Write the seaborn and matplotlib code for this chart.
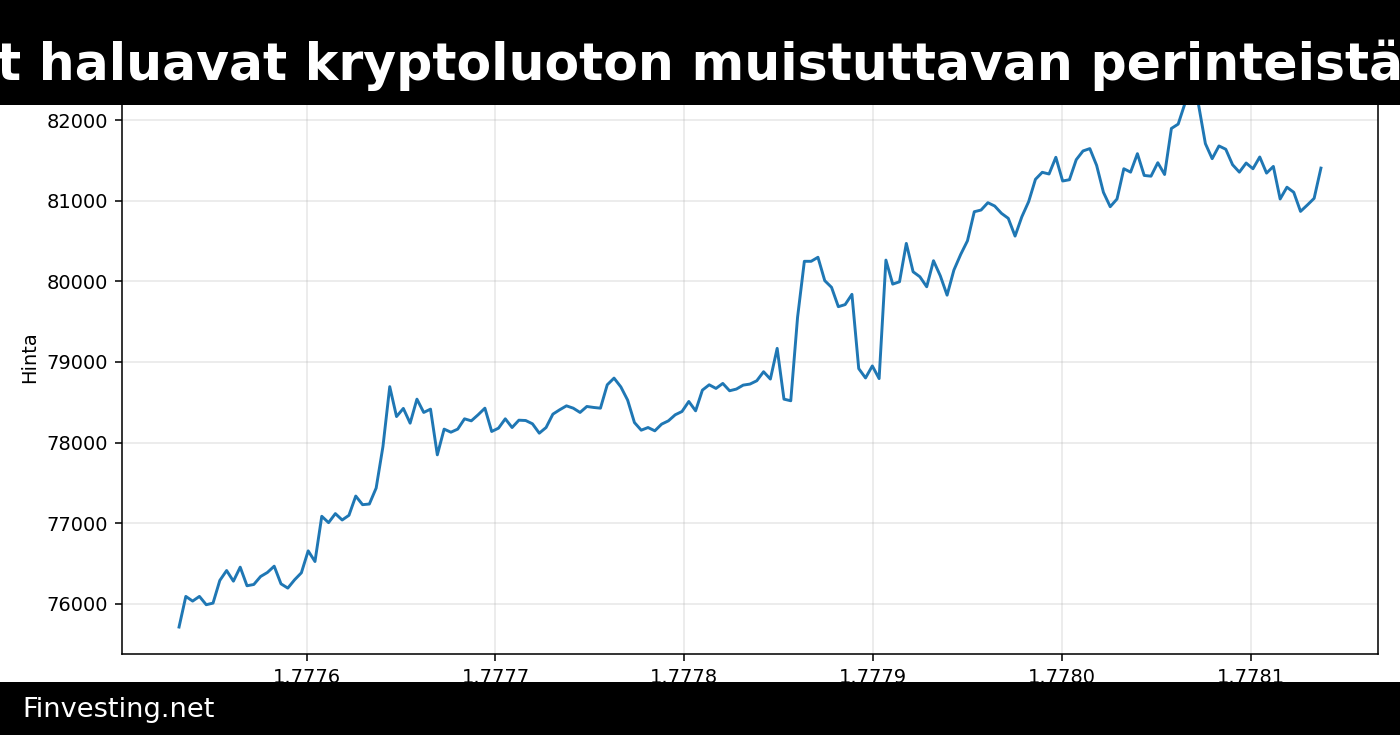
import numpy as np
import pandas as pd
import matplotlib
matplotlib.use("Agg")
import matplotlib.pyplot as plt
from matplotlib.patches import Rectangle
import seaborn as sns

TITLE = "t haluavat kryptoluoton muistuttavan perinteistä"
FOOTER = "Finvesting.net"
Y_LABEL = "Hinta"

START_TS = 1777532400
STEP_S = 3600

PRICES = [
    75711, 76091, 76033, 76091, 75988, 76008, 76289, 76412, 76280, 76454,
    76223, 76239, 76338, 76388, 76466, 76247, 76194, 76297, 76384, 76656,
    76524, 77085, 77006, 77118, 77039, 77097, 77336, 77229, 77237, 77435,
    77950, 78693, 78322, 78423, 78240, 78538, 78373, 78414, 77847, 78166,
    78128, 78166, 78294, 78269, 78344, 78426, 78137, 78178, 78294, 78186,
    78277, 78273, 78232, 78116, 78186, 78352, 78406, 78455, 78426, 78373,
    78447, 78435, 78426, 78716, 78799, 78690, 78526, 78248, 78153, 78186,
    78145, 78228, 78269, 78344, 78385, 78509, 78393, 78650, 78716, 78671,
    78733, 78642, 78663, 78712, 78725, 78766, 78878, 78787, 79168, 78538,
    78518, 79553, 80248, 80248, 80298, 80008, 79925, 79685, 79711, 79838,
    78917, 78801, 78950, 78793, 80263, 79965, 79994, 80470, 80118, 80056,
    79932, 80255, 80068, 79828, 80139, 80333, 80503, 80863, 80884, 80975,
    80934, 80843, 80781, 80561, 80801, 80988, 81265, 81352, 81331, 81538,
    81244, 81260, 81508, 81617, 81646, 81438, 81104, 80925, 81021, 81396,
    81354, 81583, 81313, 81304, 81471, 81325, 81896, 81950, 82208, 82400,
    82188, 81708, 81521, 81679, 81638, 81446, 81354, 81467, 81396, 81542,
    81342, 81425, 81021, 81167, 81104, 80867, 80946, 81029, 81404,
]

times = START_TS + STEP_S * np.arange(len(PRICES))
df = pd.DataFrame({"aika": times, "hinta": PRICES})

fig = plt.figure(figsize=(10, 5.25), dpi=140)
ax = fig.add_axes([0.0871, 0.1102, 0.8972, 0.807])

sns.lineplot(data=df, x="aika", y="hinta", ax=ax, color="#1f77b4", linewidth=1.5)
ax.grid(True, alpha=0.3)
ax.set_xlabel("")
ax.set_ylabel(Y_LABEL)

# Top banner
fig.add_artist(Rectangle((0, 0.857), 1, 0.143, transform=fig.transFigure,
                         facecolor="black", edgecolor="none", zorder=10))
fig.text(0.5, 0.891, TITLE, ha="center", va="baseline", color="white",
         fontsize=26, fontweight="bold", zorder=11)

# Footer
fig.add_artist(Rectangle((0, 0), 1, 0.072, transform=fig.transFigure,
                         facecolor="black", edgecolor="none", zorder=10))
fig.text(0.0157, 0.0245, FOOTER, ha="left", va="baseline", color="white",
         fontsize=14, zorder=11)

fig.savefig("out.png", dpi=140)
